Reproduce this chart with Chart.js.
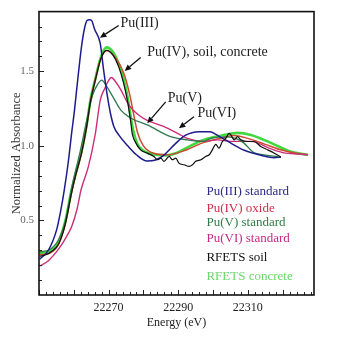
<!DOCTYPE html>
<html>
<head>
<meta charset="utf-8">
<script src="https://cdn.jsdelivr.net/npm/chart.js@4.4.0/dist/chart.umd.min.js"></script>
<style>
  html, body { margin: 0; padding: 0; background: #fff; }
  #wrap { width: 350px; height: 338px; }
</style>
</head>
<body>
<div id="wrap"><canvas id="xanes" width="350" height="338"></canvas></div>
<script>
// ---- spectra (energy in eV, normalized absorbance) ----
const puIIIEnergy = [22250.2, 22252.7, 22255.1, 22256.2, 22257.3, 22258.4, 22259.4, 22260.2, 22261.2, 22262.3, 22263.1, 22263.8, 22264.5, 22265.1, 22266.0, 22267.6, 22268.5, 22269.6, 22270.6, 22271.5, 22273.0, 22275.5, 22278.0, 22281.0, 22283.5, 22286.0, 22289.0, 22292.0, 22296.0, 22299.0, 22302.0, 22305.0, 22309.0, 22314.0, 22317.5, 22319.5];
const puIIIAbs    = [0.24, 0.30, 0.44, 0.56, 0.71, 0.89, 1.09, 1.24, 1.46, 1.68, 1.79, 1.84, 1.845, 1.84, 1.78, 1.685, 1.52, 1.34, 1.21, 1.13, 1.07, 1.00, 0.94, 0.898, 0.905, 0.94, 1.01, 1.07, 1.095, 1.095, 1.06, 1.02, 0.97, 0.935, 0.92, 0.925];

const puIVEnergy = [22250.2, 22253.0, 22255.6, 22257.5, 22259.4, 22260.5, 22262.3, 22263.7, 22264.8, 22266.3, 22267.7, 22269.5, 22272.0, 22274.3, 22276.0, 22277.2, 22278.3, 22280.0, 22283.0, 22287.0, 22292.0, 22297.0, 22302.0, 22306.0, 22310.0, 22315.0, 22320.0, 22324.0, 22327.0];
const puIVAbs    = [0.27, 0.28, 0.34, 0.47, 0.69, 0.80, 0.96, 1.13, 1.30, 1.46, 1.58, 1.64, 1.59, 1.49, 1.35, 1.21, 1.09, 1.00, 0.95, 0.94, 0.97, 1.02, 1.05, 1.07, 1.05, 1.01, 0.97, 0.95, 0.94];

const puVEnergy = [22250.2, 22252.7, 22255.6, 22257.6, 22259.6, 22261.9, 22263.7, 22265.4, 22266.8, 22268.0, 22269.4, 22271.2, 22273.5, 22276.3, 22281.1, 22287.8, 22292.6, 22297.3, 22299.4, 22303.7, 22306.5, 22308.8, 22311.7, 22314.6, 22318.6];
const puVAbs    = [0.29, 0.30, 0.37, 0.50, 0.74, 0.97, 1.17, 1.34, 1.41, 1.44, 1.40, 1.33, 1.24, 1.187, 1.14, 1.062, 1.04, 1.03, 1.05, 1.06, 1.05, 1.02, 0.955, 0.94, 0.927];

const puVIEnergy = [22250.3, 22252.7, 22255.6, 22258.0, 22259.4, 22260.9, 22262.1, 22264.2, 22266.2, 22267.6, 22269.0, 22270.2, 22270.8, 22272.0, 22273.4, 22275.4, 22277.0, 22279.0, 22281.1, 22285.8, 22289.8, 22292.6, 22297.3, 22301.3, 22305.1, 22310.9, 22316.6, 22320.4, 22324.4, 22327.3];
const puVIAbs    = [0.195, 0.23, 0.307, 0.395, 0.46, 0.573, 0.707, 0.862, 1.084, 1.307, 1.39, 1.445, 1.458, 1.43, 1.38, 1.29, 1.24, 1.20, 1.17, 1.13, 1.084, 1.05, 1.03, 1.04, 1.03, 1.03, 0.98, 0.953, 0.945, 0.94];

const soilEnergy = [22250.2, 22252.0, 22253.5, 22255.6, 22257.5, 22259.4, 22260.5, 22262.3, 22263.7, 22264.8, 22266.3, 22267.7, 22269.4, 22271.2, 22272.9, 22274.3, 22275.5, 22276.3, 22276.8, 22277.8, 22279.2, 22281.1, 22283.0, 22284.0, 22285.0, 22285.9, 22287.4, 22288.3, 22289.3, 22290.2, 22291.7, 22293.1, 22294.1, 22295.0, 22296.5, 22297.9, 22298.9, 22299.8, 22300.8, 22301.7, 22302.7, 22303.7, 22304.6, 22305.1, 22306.1, 22307.0, 22308.0, 22309.9, 22311.8, 22313.7, 22315.7, 22317.6, 22319.5];
const soilAbs    = [0.26, 0.27, 0.29, 0.34, 0.47, 0.69, 0.80, 0.96, 1.13, 1.30, 1.45, 1.58, 1.64, 1.61, 1.53, 1.42, 1.29, 1.17, 1.08, 1.02, 0.973, 0.951, 0.929, 0.907, 0.918, 0.896, 0.929, 0.907, 0.918, 0.884, 0.873, 0.862, 0.873, 0.896, 0.907, 0.929, 0.94, 0.973, 1.01, 0.985, 1.03, 1.051, 1.084, 1.073, 1.04, 1.062, 1.04, 1.029, 1.029, 0.996, 0.973, 0.951, 0.924];

const concreteEnergy = [22250.2, 22252.0, 22253.5, 22255.6, 22257.5, 22259.4, 22260.5, 22262.3, 22263.7, 22264.8, 22266.3, 22267.7, 22269.4, 22271.2, 22272.9, 22274.3, 22275.5, 22276.3, 22277.2, 22278.3, 22279.8, 22281.5, 22283.5, 22286.4, 22289.3, 22292.7, 22297.3, 22302.2, 22307.1, 22310.9, 22316.6, 22322.4, 22327.3];
const concreteAbs    = [0.28, 0.29, 0.30, 0.355, 0.49, 0.71, 0.81, 0.97, 1.14, 1.31, 1.46, 1.59, 1.66, 1.63, 1.55, 1.45, 1.32, 1.20, 1.09, 1.01, 0.97, 0.95, 0.94, 0.935, 0.95, 0.99, 1.04, 1.067, 1.087, 1.073, 1.02, 0.96, 0.94];

const seriesLabels = ['Pu(III) standard', 'Pu(IV) oxide', 'Pu(V) standard', 'Pu(VI) standard', 'RFETS soil', 'RFETS concrete'];
const xTickValues = [22270, 22290, 22310];
const yTickValues = [0.5, 1.0, 1.5];

// callouts: text anchor [E, A], arrow tail [E, A], arrow head [E, A]
const callouts = [
  { text: 'Pu(III)',                at: [22273.4, 1.82],  from: [22272.9, 1.807], to: [22267.5, 1.725] },
  { text: 'Pu(IV), soil, concrete', at: [22281.1, 1.627], from: [22279.2, 1.593], to: [22274.6, 1.502] },
  { text: 'Pu(V)',                  at: [22287.0, 1.32],  from: [22286.4, 1.295], to: [22281.1, 1.151] },
  { text: 'Pu(VI)',                 at: [22295.5, 1.22],  from: [22294.5, 1.195], to: [22290.2, 1.118] }
];

// legend block (text only, coloured)
const legendColors = ['#2a2a86', '#c8334a', '#2e7d46', '#c42a86', '#111111', '#6ad86a'];
const legendAnchor = [22298.1, 0.691];
const legendRowGap = [0, 17, 14, 16, 18.4, 19];

const lineColors = ['#1c1c8c', '#cc4a30', '#2f7a4f', '#cc2f78', '#111111', '#3fd83f'];
const lineWidths = [1.5, 1.5, 1.3, 1.4, 1.2, 2.6];
const drawOrder  = [2, 5, 3, 4, 1, 6];

const energies = [puIIIEnergy, puIVEnergy, puVEnergy, puVIEnergy, soilEnergy, concreteEnergy];
const absorb   = [puIIIAbs, puIVAbs, puVAbs, puVIAbs, soilAbs, concreteAbs];

const datasets = seriesLabels.map((label, i) => ({
  label: label,
  data: energies[i].map((e, k) => ({ x: e, y: absorb[i][k] })),
  borderColor: lineColors[i],
  borderWidth: lineWidths[i],
  pointRadius: 0,
  fill: false,
  cubicInterpolationMode: 'monotone',
  order: drawOrder[i]
}));

const serif = "'Liberation Serif', 'Times New Roman', serif";

// box around the plot + inward tick marks
const framePlugin = {
  id: 'frame',
  afterDatasetsDraw(chart) {
    const { ctx, chartArea: a, scales: { x, y } } = chart;
    ctx.save();
    ctx.strokeStyle = '#222';
    ctx.lineWidth = 1;
    ctx.beginPath();
    for (let n = 0; n <= 39; n++) {
      const e = 22250 + n * 2;
      const px = Math.round(x.getPixelForValue(e)) + 0.5;
      const len = (e % 10 === 0) ? 5 : 3;
      ctx.moveTo(px, a.bottom);
      ctx.lineTo(px, a.bottom - len);
    }
    for (let n = 1; n <= 18; n++) {
      const v = n / 10;
      const py = Math.round(y.getPixelForValue(v)) + 0.5;
      const len = (n % 5 === 0) ? 5 : 3;
      ctx.moveTo(a.left, py);
      ctx.lineTo(a.left + len, py);
    }
    ctx.stroke();
    ctx.lineWidth = 1.6;
    ctx.strokeStyle = '#111';
    ctx.strokeRect(a.left, a.top, a.right - a.left, a.bottom - a.top);
    ctx.restore();
  }
};

// arrow callouts and the coloured text legend
const notesPlugin = {
  id: 'notes',
  afterDraw(chart) {
    const { ctx, scales: { x, y } } = chart;
    ctx.save();
    ctx.font = '14px ' + serif;
    ctx.textBaseline = 'middle';
    ctx.textAlign = 'left';
    callouts.forEach(c => {
      ctx.fillStyle = '#222';
      ctx.fillText(c.text, x.getPixelForValue(c.at[0]), y.getPixelForValue(c.at[1]));
      const x0 = x.getPixelForValue(c.from[0]), y0 = y.getPixelForValue(c.from[1]);
      const x1 = x.getPixelForValue(c.to[0]),   y1 = y.getPixelForValue(c.to[1]);
      const ang = Math.atan2(y1 - y0, x1 - x0);
      const head = 6.5, half = 3;
      const bx = x1 - head * Math.cos(ang), by = y1 - head * Math.sin(ang);
      ctx.strokeStyle = '#111';
      ctx.lineWidth = 1.3;
      ctx.beginPath();
      ctx.moveTo(x0, y0);
      ctx.lineTo(bx, by);
      ctx.stroke();
      ctx.fillStyle = '#111';
      ctx.beginPath();
      ctx.moveTo(x1, y1);
      ctx.lineTo(bx + half * Math.sin(ang), by - half * Math.cos(ang));
      ctx.lineTo(bx - half * Math.sin(ang), by + half * Math.cos(ang));
      ctx.closePath();
      ctx.fill();
    });

    ctx.font = '13px ' + serif;
    const lx = x.getPixelForValue(legendAnchor[0]);
    let ly = y.getPixelForValue(legendAnchor[1]);
    chart.data.datasets.forEach((ds, i) => {
      ly += legendRowGap[i];
      ctx.fillStyle = legendColors[i];
      ctx.fillText(ds.label, lx, ly);
    });
    ctx.restore();
  }
};

Chart.defaults.font.family = serif;

new Chart(document.getElementById('xanes'), {
  type: 'line',
  data: { datasets: datasets },
  options: {
    responsive: false,
    animation: false,
    devicePixelRatio: 1,
    layout: { padding: { top: 11, right: 36, left: 0, bottom: 0 } },
    plugins: {
      legend: { display: false },
      tooltip: { enabled: false }
    },
    scales: {
      x: {
        type: 'linear',
        min: 22250,
        max: 22329,
        grid: { display: false, drawTicks: false },
        border: { display: false },
        afterBuildTicks: s => { s.ticks = xTickValues.map(v => ({ value: v })); },
        afterFit: s => { s.height = 43; },
        ticks: {
          color: '#222',
          font: { size: 12 },
          padding: 6,
          maxRotation: 0,
          callback: v => String(v)
        },
        title: {
          display: true,
          text: 'Energy (eV)',
          color: '#222',
          font: { size: 12 },
          padding: { top: 0, bottom: 8 }
        }
      },
      y: {
        min: 0,
        max: 1.9,
        grid: { display: false, drawTicks: false },
        border: { display: false },
        afterBuildTicks: s => { s.ticks = yTickValues.map(v => ({ value: v })); },
        afterFit: s => { s.width = 39; },
        ticks: {
          color: '#666',
          font: { size: 11 },
          padding: 5,
          callback: v => v.toFixed(1)
        },
        title: {
          display: true,
          text: 'Normalized Absorbance',
          color: '#333',
          font: { size: 12.5 },
          padding: { top: 9, bottom: 0 }
        }
      }
    }
  },
  plugins: [framePlugin, notesPlugin]
});
</script>
</body>
</html>
